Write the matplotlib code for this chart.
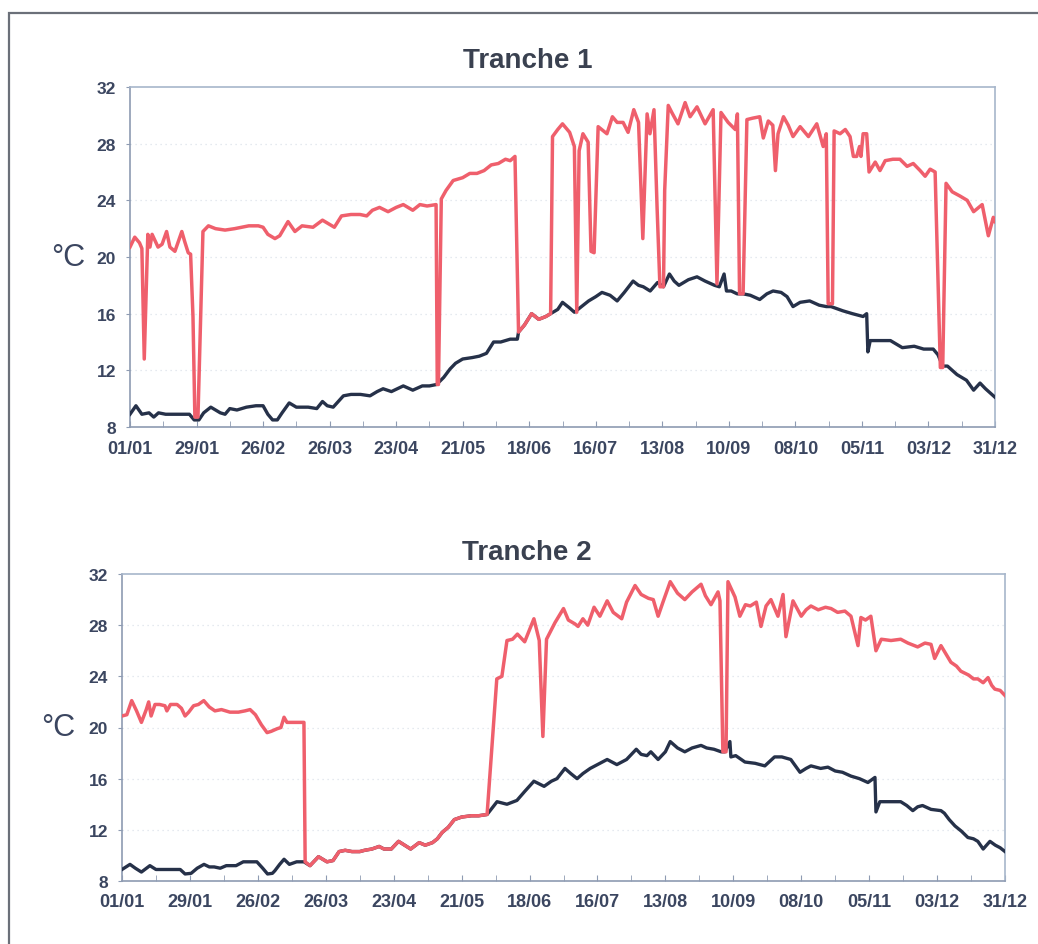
import matplotlib

matplotlib.use('Agg')
import matplotlib.pyplot as plt
from matplotlib.patches import Rectangle

plt.rcParams['font.family'] = ['Liberation Sans', 'DejaVu Sans']

# Axis labels (day index 0..364, one label every 28 days)
date_labels = ['01/01', '29/01', '26/02', '26/03', '23/04', '21/05', '18/06',
               '16/07', '13/08', '10/09', '08/10', '05/11', '03/12', '31/12']
temp_ticks = [8, 12, 16, 20, 24, 28, 32]

# Tranche 1 - red series (day, degC)
t1_red_day = [0, 2, 4, 5, 6, 7.5, 8.4, 9.3, 11.8, 13.5, 15.4, 16.8, 18.9, 21.8, 23, 24.5,
              25.5, 26.5, 27.3, 28.6, 30.7, 33, 36, 40, 44, 47, 50, 54, 56, 58, 61, 63,
              66.5, 69.4, 72.4, 77, 81, 84, 86, 89, 93, 96.8, 99.6, 102, 105, 108.6, 112,
              115, 119, 122, 125, 128.8, 129.3, 129.8, 131, 133, 136, 140, 143, 146, 149,
              152, 155, 158, 160, 162, 163.5, 166, 169, 172, 175, 177, 177.8, 180, 182,
              185, 187, 188, 189, 190.6, 192.8, 194, 195.3, 197, 200.7, 203, 205, 207.5,
              209.6, 212, 214, 215.8, 217.6, 218.8, 220.5, 221.8, 223, 224.5, 225, 226.5,
              228, 230.6, 233.6, 235.7, 238.6, 242, 245.4, 247, 248.7, 251.7, 254.7, 255.6,
              256.5, 258, 259.6, 262, 265, 266.5, 268.6, 270.5, 271.6, 272.7, 275, 277,
              279, 282, 285.5, 289, 291.7, 293, 293.8, 295.6, 296.3, 298.8, 301, 303,
              304.4, 305.8, 307, 307.6, 308.5, 310, 311, 313.6, 315.6, 317.8, 321, 324,
              327, 329.6, 332.5, 334.6, 336.7, 338.8, 341, 342, 343.4, 346, 349.3, 352.3,
              355, 358.6, 361.2, 363.3, 364]
t1_red_temp = [20.7, 21.4, 21.0, 20.6, 12.8, 21.6, 20.7, 21.6, 20.7, 20.9, 21.8, 20.7, 20.4,
               21.8, 21.1, 20.3, 20.2, 15.8, 8.7, 8.7, 21.8, 22.2, 22.0, 21.9, 22.0, 22.1,
               22.2, 22.2, 22.1, 21.6, 21.3, 21.5, 22.5, 21.8, 22.2, 22.1, 22.6, 22.3, 22.1,
               22.9, 23.0, 23.0, 22.9, 23.3, 23.5, 23.2, 23.5, 23.7, 23.3, 23.7, 23.6, 23.7,
               11.0, 11.0, 24.1, 24.7, 25.4, 25.6, 25.9, 25.9, 26.1, 26.5, 26.6, 26.9, 26.8,
               27.1, 14.7, 15.2, 16.0, 15.6, 15.8, 16.0, 28.5, 29.0, 29.4, 28.8, 27.8, 16.1,
               27.5, 28.7, 28.1, 20.4, 20.3, 29.2, 28.7, 29.9, 29.5, 29.5, 28.8, 30.4, 29.5,
               21.3, 30.1, 28.7, 30.4, 23.5, 17.9, 17.9, 24.7, 30.7, 30.2, 29.4, 30.9, 29.9,
               30.6, 29.4, 30.4, 18.1, 30.2, 29.5, 29.0, 30.1, 17.4, 17.4, 29.7, 29.8, 29.9,
               28.4, 29.6, 29.3, 26.1, 28.7, 29.9, 29.3, 28.5, 29.2, 28.5, 29.4, 27.8, 28.7,
               16.7, 16.7, 28.9, 28.7, 29.0, 28.5, 27.1, 27.1, 27.8, 27.1, 28.7, 28.7, 26.0,
               26.7, 26.1, 26.8, 26.9, 26.9, 26.4, 26.6, 26.1, 25.7, 26.2, 26.0, 12.2, 12.2,
               25.2, 24.6, 24.3, 24.0, 23.2, 23.7, 21.5, 22.8, 22.5]

# Tranche 1 - navy series
t1_navy_day = [0, 2.5, 5, 8, 10, 12, 15, 20, 25, 27, 29, 31, 34, 38, 40, 42, 45, 49, 53, 56,
               58, 60, 62, 64, 67, 70, 75, 78.6, 81, 83, 85.5, 89.8, 93, 97, 101, 104, 106.5,
               110, 115, 119, 123, 126, 129, 132, 134.7, 137, 140, 144, 147, 150, 153, 156,
               160, 163, 163.5, 166, 169, 172, 175, 177, 180, 182, 185, 187, 190, 193, 196,
               198.6, 202, 205, 208, 211.7, 214, 216, 218.9, 222, 224.5, 227, 229, 231, 235,
               238.6, 242, 246, 248, 250, 251, 253, 255.5, 258, 261, 265, 268, 270.6, 274,
               276.5, 279, 282, 286, 290, 293, 295, 300, 304, 308.5, 310, 310.5, 311.5, 316,
               320, 325, 330, 334, 338, 340, 342, 344, 348, 352, 355, 357.7, 360, 362, 364]
t1_navy_temp = [8.9, 9.5, 8.9, 9.0, 8.7, 9.0, 8.9, 8.9, 8.9, 8.5, 8.5, 9.0, 9.4, 9.0, 8.9,
                9.3, 9.2, 9.4, 9.5, 9.5, 8.9, 8.5, 8.5, 9.0, 9.7, 9.4, 9.4, 9.3, 9.8, 9.5,
                9.4, 10.2, 10.3, 10.3, 10.2, 10.5, 10.7, 10.5, 10.9, 10.6, 10.9, 10.9, 11.0,
                11.5, 12.1, 12.5, 12.8, 12.9, 13.0, 13.2, 14.0, 14.0, 14.2, 14.2, 14.7, 15.2,
                16.0, 15.6, 15.8, 16.0, 16.3, 16.8, 16.4, 16.1, 16.5, 16.9, 17.2, 17.5, 17.3,
                16.9, 17.5, 18.3, 18.0, 17.9, 17.6, 18.2, 17.9, 18.8, 18.3, 18.0, 18.4, 18.6,
                18.3, 18.0, 17.9, 18.8, 17.6, 17.6, 17.4, 17.4, 17.3, 17.0, 17.4, 17.6, 17.5,
                17.2, 16.5, 16.8, 16.9, 16.6, 16.5, 16.5, 16.2, 16.0, 15.8, 16.0, 13.3, 14.1,
                14.1, 14.1, 13.6, 13.7, 13.5, 13.5, 13.1, 12.3, 12.3, 11.7, 11.3, 10.6, 11.1,
                10.7, 10.4, 10.1]

# Tranche 2 - red series
t2_red_day = [0, 2, 4, 6, 8, 10, 11, 12, 13.6, 15.5, 17.7, 18.5, 20, 22.7, 24.5, 26, 27.5,
              29.5, 31.5, 33.7, 36, 38.3, 41, 44.5, 48, 50.7, 52.8, 55, 57.5, 59.8, 61.5,
              63.9, 65.5, 66.8, 68, 70, 75, 75.5, 77.5, 79.5, 81, 84.5, 87, 89.5, 92, 94.8,
              98, 100, 103, 106, 108, 111, 114, 116.5, 119, 122.5, 125, 128, 130, 132,
              134.5, 137, 140, 144, 147, 150.5, 154.5, 156.6, 158.7, 161, 163, 166, 169.8,
              172, 173.5, 175, 178.5, 182, 184, 186.7, 188, 190, 192, 194.6, 197, 200,
              202.5, 206, 208, 211.5, 214, 217, 219, 221, 223, 226, 229, 232, 235, 238.7,
              240.5, 242.8, 245.7, 246.5, 247.7, 249, 249.8, 252.7, 254.7, 257, 259, 261.5,
              263.4, 265.5, 267.5, 270.4, 272.5, 273.7, 276.6, 280, 282, 284, 287, 290,
              292.3, 295, 298, 300.5, 303.4, 304.6, 306.5, 308.7, 310.8, 313, 317, 321, 324,
              328, 331, 333.5, 335, 337.6, 339.5, 341.7, 344, 345.8, 349, 351, 352.8, 355,
              357, 358.5, 359.8, 362, 364]
t2_red_temp = [20.9, 21.0, 22.1, 21.3, 20.4, 21.4, 22.0, 20.9, 21.8, 21.8, 21.7, 21.3, 21.8,
               21.8, 21.5, 20.9, 21.2, 21.7, 21.8, 22.1, 21.6, 21.3, 21.4, 21.2, 21.2, 21.3,
               21.4, 21.0, 20.2, 19.6, 19.7, 19.9, 20.0, 20.8, 20.4, 20.4, 20.4, 9.5, 9.2,
               9.6, 9.9, 9.5, 9.6, 10.3, 10.4, 10.3, 10.3, 10.4, 10.5, 10.7, 10.5, 10.5, 11.1,
               10.8, 10.5, 11.0, 10.8, 11.0, 11.3, 11.8, 12.2, 12.8, 13.0, 13.1, 13.1, 13.2,
               23.8, 24.0, 26.8, 26.9, 27.3, 26.7, 28.5, 26.8, 19.3, 26.9, 28.2, 29.3, 28.4,
               28.1, 27.9, 28.5, 28.0, 29.4, 28.7, 29.9, 29.0, 28.5, 29.8, 31.1, 30.4, 30.1,
               30.0, 28.7, 29.8, 31.4, 30.5, 30.0, 30.6, 31.2, 30.3, 29.6, 30.6, 29.9, 18.1,
               18.1, 31.4, 30.2, 28.7, 29.6, 29.5, 29.8, 27.9, 29.5, 30.0, 28.7, 30.4, 27.1,
               29.9, 28.7, 29.2, 29.5, 29.2, 29.4, 29.3, 29.0, 29.1, 28.7, 26.4, 28.6, 28.4,
               28.7, 26.0, 26.9, 26.8, 26.9, 26.6, 26.3, 26.6, 26.5, 25.4, 26.4, 25.8, 25.1,
               24.8, 24.4, 24.1, 23.8, 23.8, 23.5, 23.9, 23.3, 23.0, 22.9, 22.5]

# Tranche 2 - navy series
t2_navy_day = [0, 3.3, 5.5, 8, 11.5, 14, 18, 24, 26, 28.5, 31, 33.8, 36, 38, 40.5, 43, 47,
               50, 55.6, 58, 60, 62, 63, 65, 66.8, 69, 72, 75, 77.5, 79.5, 81, 84.5, 87,
               89.5, 92, 94.8, 98, 100, 103, 106, 108, 111, 114, 116.5, 119, 122.5, 125,
               128, 130, 132, 134.5, 137, 140, 144, 147, 150.5, 154.6, 156.6, 158.7, 162.8,
               166, 169.8, 174, 177, 179.3, 182.6, 185, 187.6, 190, 193, 196, 200, 204, 208,
               212, 214, 216.4, 218, 221, 224, 226, 229, 232, 235, 238.7, 241, 244, 247,
               248.5, 250.6, 251, 253, 256.8, 261, 265, 269, 272, 275.7, 279.5, 282, 284,
               288, 291, 294, 297, 300.5, 304, 307.5, 310.4, 310.8, 312.4, 316, 321, 323.5,
               326, 328, 330, 333.5, 337.6, 339, 341, 343.4, 346, 348.7, 351, 352.8, 355,
               357.8, 360, 362, 364]
t2_navy_temp = [8.9, 9.3, 9.0, 8.7, 9.2, 8.9, 8.9, 8.9, 8.55, 8.6, 9.0, 9.3, 9.1, 9.1, 9.0,
                9.2, 9.2, 9.5, 9.5, 9.0, 8.55, 8.6, 8.8, 9.3, 9.7, 9.3, 9.5, 9.5, 9.2, 9.6,
                9.9, 9.5, 9.6, 10.3, 10.4, 10.3, 10.3, 10.4, 10.5, 10.7, 10.5, 10.5, 11.1,
                10.8, 10.5, 11.0, 10.8, 11.0, 11.3, 11.8, 12.2, 12.8, 13.0, 13.1, 13.1, 13.2,
                14.2, 14.1, 14.0, 14.3, 15.0, 15.8, 15.4, 15.8, 16.0, 16.8, 16.4, 16.0, 16.4,
                16.8, 17.1, 17.5, 17.1, 17.5, 18.3, 17.9, 17.8, 18.1, 17.5, 18.1, 18.9, 18.4,
                18.1, 18.4, 18.6, 18.4, 18.3, 18.1, 18.1, 18.9, 17.7, 17.8, 17.3, 17.2, 17.0,
                17.7, 17.7, 17.5, 16.5, 16.8, 17.0, 16.8, 16.9, 16.6, 16.5, 16.2, 16.0, 15.7,
                16.1, 13.4, 14.2, 14.2, 14.2, 13.9, 13.5, 13.8, 13.9, 13.6, 13.5, 13.3, 12.8,
                12.3, 11.9, 11.4, 11.3, 11.1, 10.5, 11.1, 10.8, 10.6, 10.3]

RED = '#ef5f6c'
NAVY = '#263149'
TXT = '#3b4660'
FRAME = '#a7b6cb'

fig = plt.figure(figsize=(10.38, 9.45), dpi=100)

# outer frame (only left and top edges fall inside the image)
fig.patches.append(Rectangle((9 / 1038, -0.05), 1.2, 1 - 14 / 945 + 0.05,
                             transform=fig.transFigure, fill=False,
                             edgecolor='#6b7079', linewidth=1.6, zorder=0))


def draw_panel(rect, title, red_day, red_temp, navy_day, navy_temp, ylab_x, title_y):
    ax = fig.add_axes(rect)
    ax.plot(navy_day, navy_temp, color=NAVY, linewidth=2.4, solid_joinstyle='round', zorder=3)
    ax.plot(red_day, red_temp, color=RED, linewidth=2.5, solid_joinstyle='round', zorder=4)
    ax.set_xlim(0, 364)
    ax.set_ylim(8, 32)
    ax.set_yticks(temp_ticks)
    ax.set_xticks(range(0, 365, 28))
    ax.set_xticklabels(date_labels)
    ax.set_xticks(range(14, 365, 28), minor=True)
    for t in temp_ticks[1:-1]:
        ax.axhline(t, color='#dde2ea', linewidth=0.9, linestyle=(0, (1, 3)), zorder=1)
    for s in ax.spines.values():
        s.set_color(FRAME)
        s.set_linewidth(1.2)
    ax.spines['bottom'].set_color('#8e9bb2')
    ax.spines['left'].set_color('#8e9bb2')
    ax.tick_params(axis='x', which='both', direction='in', length=4, color='#8e9bb2',
                   labelsize=13, labelcolor=TXT, pad=9)
    ax.tick_params(axis='y', direction='out', length=3, color='#8e9bb2',
                   labelsize=12.5, labelcolor=TXT, pad=7)
    for lbl in ax.get_xticklabels() + ax.get_yticklabels():
        lbl.set_fontweight('bold')
    fig.text(0.508, title_y, title, ha='center', va='center', fontsize=20,
             fontweight='bold', color='#3a4150')
    ax.text(ylab_x, 20, '°C', transform=ax.get_yaxis_transform(), ha='center',
            va='center', fontsize=22, color=TXT)
    return ax


draw_panel([130 / 1038, 1 - 428 / 945, 865 / 1038, 340 / 945], 'Tranche 1',
           t1_red_day, t1_red_temp, t1_navy_day, t1_navy_temp, -0.072, 1 - 61 / 945)
draw_panel([122 / 1038, 1 - 882 / 945, 883 / 1038, 307 / 945], 'Tranche 2',
           t2_red_day, t2_red_temp, t2_navy_day, t2_navy_temp, -0.072, 1 - 553 / 945)

plt.savefig('out.png', dpi=100, facecolor='white')
